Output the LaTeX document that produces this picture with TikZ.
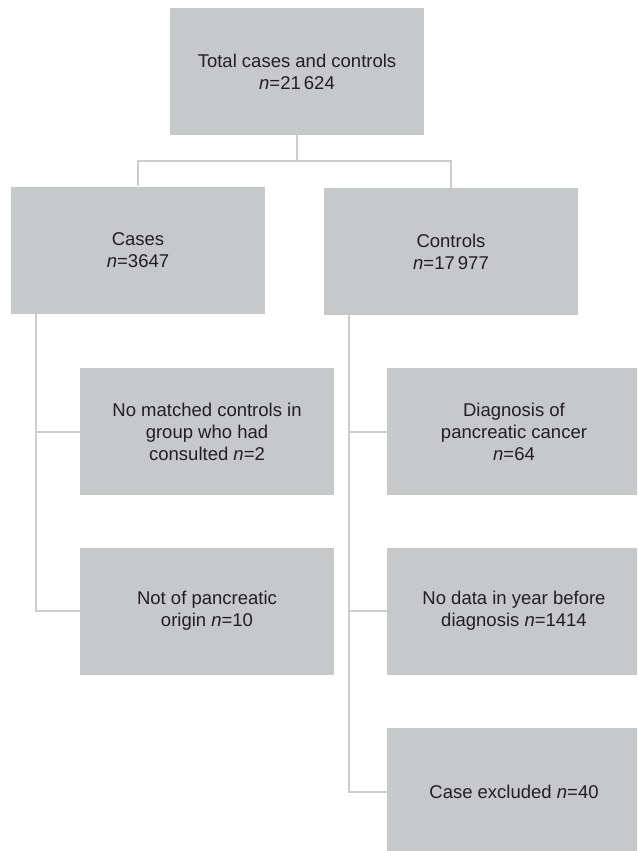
\documentclass[tikz,border=0pt]{standalone}
\usepackage{fontspec}
\setmainfont{Liberation Sans}
\definecolor{boxgray}{RGB}{199,200,202}
\definecolor{linegray}{RGB}{204,205,207}
\definecolor{txt}{RGB}{35,31,32}
\begin{document}
\begin{tikzpicture}[x=1pt,y=-1pt,
  fbox/.style={fill=boxgray, draw=none, minimum width=254pt, minimum height=127pt,
    inner sep=0pt, align=center, text=txt,
    font=\fontsize{18.5}{22}\selectfont},
  conn/.style={draw=linegray, line width=2pt}]
\useasboundingbox (0,0) rectangle (637,851);
\clip (0,0) rectangle (637,851);
\fill[white] (0,0) rectangle (637,851);

\node[fbox] (top) at (297,71.5) {Total cases and controls\\\textit{n}=21\,624};
\node[fbox] (cases) at (138,250) {Cases\\\textit{n}=3647};
\node[fbox] (controls) at (451,251.5) {Controls\\\textit{n}=17\,977};

\node[fbox] (l1) at (207,431.5) {No matched controls in\\group who had\\consulted \textit{n}=2};
\node[fbox] (l2) at (207,611) {Not of pancreatic\\origin \textit{n}=10};

\node[fbox] (r1) at (514,431.5) {Diagnosis of\\pancreatic cancer\\\textit{n}=64};
\node[fbox] (r2) at (514,611) {No data in year before\\diagnosis \textit{n}=1414};
\node[fbox] (r3) at (514,791.5) {Case excluded \textit{n}=40};

\coordinate (tj) at (297,161);
\draw[conn] (top.south) -- (tj);
\draw[conn] (cases.north) |- (tj) -| (controls.north);

\coordinate (ls) at (36,313.5);
\draw[conn] (ls) |- (l2.west);
\draw[conn] (ls |- l1.west) -- (l1.west);

\coordinate (rs) at (349,315);
\draw[conn] (rs) |- (r3.west);
\draw[conn] (rs |- r1.west) -- (r1.west);
\draw[conn] (rs |- r2.west) -- (r2.west);
\end{tikzpicture}
\end{document}
